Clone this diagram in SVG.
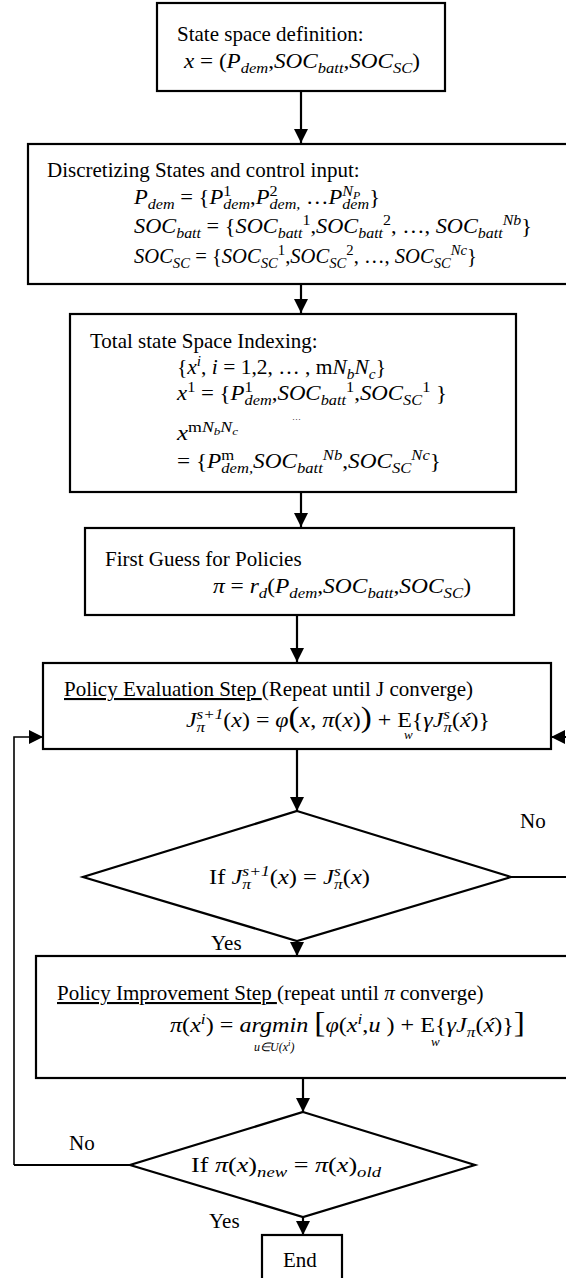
<svg xmlns="http://www.w3.org/2000/svg" width="566" height="1278" viewBox="0 0 566 1278">
  <style>
    .box { fill: #fff; stroke: #000; stroke-width: 2.2; }
    .dec { fill: #fff; stroke: #000; stroke-width: 2.2; stroke-linejoin: miter; }
    .tx { font-family: "Liberation Serif", "Times New Roman", serif; font-size: 21px; fill: #000; }
    .mi { font-style: italic; }
    .up { font-style: normal; }
    .sb { font-size: 15px; baseline-shift: -5px; }
    .sp { font-size: 15px; baseline-shift: 8px; }
    .ssp { font-size: 11px; baseline-shift: 5px; }
    .big { font-size: 29px; font-style: normal; }
    .small { font-family: "Liberation Serif", "Times New Roman", serif; font-size: 13px; font-style: italic; fill: #000; }
    .conn { fill: none; stroke: #000; stroke-width: 2.2; }
    .conn-thin { fill: none; stroke: #000; stroke-width: 1.6; }
  </style>
  <defs>
    <marker id="ah" markerUnits="userSpaceOnUse" markerWidth="16" markerHeight="16" refX="14" refY="7" orient="auto">
      <path d="M0,0 L14,7 L0,14 z" fill="#000"/>
    </marker>
  </defs>

  <!-- connectors -->
  <g id="connectors">
    <path class="conn" d="M301,91 V143" marker-end="url(#ah)"/>
    <path class="conn" d="M301,284 V313" marker-end="url(#ah)"/>
    <path class="conn" d="M301,492 V527" marker-end="url(#ah)"/>
    <path class="conn" d="M297,615 V662" marker-end="url(#ah)"/>
    <path class="conn" d="M297,749 V811" marker-end="url(#ah)"/>
    <path class="conn" d="M297,941 V956" marker-end="url(#ah)"/>
    <path class="conn" d="M303,1078 V1112" marker-end="url(#ah)"/>
    <path class="conn" d="M303,1217 V1235" marker-end="url(#ah)"/>
    <!-- value not converged: loop back to evaluation -->
    <path class="conn" d="M511,877 H572 V737 H551" marker-end="url(#ah)"/>
    <!-- policy not converged: loop back to evaluation -->
    <path class="conn" d="M130,1165 H14"/>
    <path class="conn-thin" d="M14,1165 V737 H43" marker-end="url(#ah)"/>
    <text class="tx" x="520" y="828">No</text>
    <text class="tx" x="211" y="950">Yes</text>
    <text class="tx" x="69" y="1150">No</text>
    <text class="tx" x="209" y="1228">Yes</text>
  </g>

  <!-- state space definition -->
  <g id="n-state">
    <rect class="box" x="157" y="3" width="288" height="88"/>
    <text class="tx" x="177" y="41">State space definition:</text>
    <text class="tx mi" x="184" y="68" textLength="236" lengthAdjust="spacingAndGlyphs">x<tspan class="up"> = (</tspan>P<tspan class="sb">dem</tspan><tspan class="up">,</tspan>SOC<tspan class="sb">batt</tspan><tspan class="up">,</tspan>SOC<tspan class="sb">SC</tspan><tspan class="up">)</tspan></text>
  </g>

  <!-- discretization -->
  <g id="n-discretize">
    <rect class="box" x="28" y="144" width="542" height="140"/>
    <text class="tx" x="47" y="177">Discretizing States and control input:</text>
    <text class="tx mi" x="134" y="204" textLength="246" lengthAdjust="spacingAndGlyphs">P<tspan class="sb">dem</tspan><tspan class="up"> = {</tspan>P<tspan class="sp up">1</tspan><tspan class="sb" dx="-7.5">dem</tspan><tspan class="up">,</tspan>P<tspan class="sp up">2</tspan><tspan class="sb" dx="-7.5">dem,</tspan><tspan class="up"> …</tspan>P<tspan class="sp">N</tspan><tspan class="ssp">P</tspan><tspan class="sb" dx="-16.7">dem</tspan><tspan class="up">}</tspan></text>
    <text class="tx mi" x="134" y="233" textLength="398" lengthAdjust="spacingAndGlyphs">SOC<tspan class="sb">batt</tspan><tspan class="up"> = {</tspan>SOC<tspan class="sb">batt</tspan><tspan class="sp up">1</tspan><tspan class="up">,</tspan>SOC<tspan class="sb">batt</tspan><tspan class="sp up">2</tspan><tspan class="up">, …, </tspan>SOC<tspan class="sb">batt</tspan><tspan class="sp">Nb</tspan><tspan class="up">}</tspan></text>
    <text class="tx mi" x="134" y="263" textLength="343" lengthAdjust="spacingAndGlyphs">SOC<tspan class="sb">SC</tspan><tspan class="up"> = {</tspan>SOC<tspan class="sb">SC</tspan><tspan class="sp up">1</tspan><tspan class="up">,</tspan>SOC<tspan class="sb">SC</tspan><tspan class="sp up">2</tspan><tspan class="up">, …, </tspan>SOC<tspan class="sb">SC</tspan><tspan class="sp">Nc</tspan><tspan class="up">}</tspan></text>
  </g>

  <!-- state indexing -->
  <g id="n-index">
    <rect class="box" x="70" y="314" width="446" height="178"/>
    <text class="tx" x="90" y="348">Total state Space Indexing:</text>
    <text class="tx mi" x="177" y="374" textLength="209" lengthAdjust="spacingAndGlyphs"><tspan class="up">{</tspan>x<tspan class="sp">i</tspan><tspan class="up">, </tspan>i<tspan class="up"> = 1,2, … , m</tspan>N<tspan class="sb">b</tspan>N<tspan class="sb">c</tspan><tspan class="up">}</tspan></text>
    <text class="tx mi" x="177" y="400" textLength="270" lengthAdjust="spacingAndGlyphs">x<tspan class="sp up">1</tspan><tspan class="up"> = {</tspan>P<tspan class="sp up">1</tspan><tspan class="sb" dx="-7.5">dem</tspan><tspan class="up">,</tspan>SOC<tspan class="sb">batt</tspan><tspan class="sp up">1</tspan><tspan class="up">,</tspan>SOC<tspan class="sb">SC</tspan><tspan class="sp up">1</tspan><tspan class="up"> }</tspan></text>
    <text class="tx" x="292" y="420" style="font-size:9px">…</text>
    <text class="tx mi" x="177" y="440" textLength="61" lengthAdjust="spacingAndGlyphs">x<tspan class="sp up">m</tspan><tspan class="sp">N</tspan><tspan class="ssp">b</tspan><tspan class="sp">N</tspan><tspan class="ssp">c</tspan></text>
    <text class="tx mi" x="177" y="468" textLength="264" lengthAdjust="spacingAndGlyphs"><tspan class="up">= {</tspan>P<tspan class="sp up">m</tspan><tspan class="sb" dx="-11.7">dem,</tspan>SOC<tspan class="sb">batt</tspan><tspan class="sp">Nb</tspan><tspan class="up">,</tspan>SOC<tspan class="sb">SC</tspan><tspan class="sp">Nc</tspan><tspan class="up">}</tspan></text>
  </g>

  <!-- initial policy -->
  <g id="n-guess">
    <rect class="box" x="85" y="528" width="429" height="87"/>
    <text class="tx" x="105" y="566">First Guess for Policies</text>
    <text class="tx mi" x="213" y="593" textLength="258" lengthAdjust="spacingAndGlyphs">π<tspan class="up"> = </tspan>r<tspan class="sb">d</tspan><tspan class="up">(</tspan>P<tspan class="sb">dem</tspan><tspan class="up">,</tspan>SOC<tspan class="sb">batt</tspan><tspan class="up">,</tspan>SOC<tspan class="sb">SC</tspan><tspan class="up">)</tspan></text>
  </g>

  <!-- policy evaluation -->
  <g id="n-evaluate">
    <rect class="box" x="43" y="663" width="508" height="86"/>
    <text class="tx" x="64" y="696"><tspan text-decoration="underline">Policy Evaluation Step </tspan>(Repeat until J converge)</text>
    <text class="tx mi" x="186" y="727" textLength="304" lengthAdjust="spacingAndGlyphs">J<tspan class="sp">s+1</tspan><tspan class="sb" dx="-23.5">π</tspan><tspan class="up" dx="16">(</tspan>x<tspan class="up">) = </tspan>φ<tspan class="big">(</tspan>x<tspan class="up">, </tspan>π<tspan class="up">(</tspan>x<tspan class="up">)</tspan><tspan class="big">)</tspan><tspan class="up"> + E{</tspan>γJ<tspan class="sp">s</tspan><tspan class="sb" dx="-5.8">π</tspan><tspan class="up">(</tspan>x́<tspan class="up">)}</tspan></text>
    <text class="small" x="404" y="739">w</text>
  </g>

  <!-- value convergence test -->
  <g id="n-check-value">
    <polygon class="dec" points="297,811 511,877 297,941 83,877"/>
    <text class="tx mi" x="209" y="884" textLength="161" lengthAdjust="spacingAndGlyphs"><tspan class="up">If </tspan>J<tspan class="sp">s+1</tspan><tspan class="sb" dx="-23.5">π</tspan><tspan class="up" dx="16">(</tspan>x<tspan class="up">) = </tspan>J<tspan class="sp">s</tspan><tspan class="sb" dx="-5.8">π</tspan><tspan class="up">(</tspan>x<tspan class="up">)</tspan></text>
  </g>

  <!-- policy improvement -->
  <g id="n-improve">
    <rect class="box" x="36" y="956" width="534" height="122"/>
    <text class="tx" x="57" y="1000"><tspan text-decoration="underline">Policy Improvement Step </tspan>(repeat until <tspan class="mi">π</tspan> converge)</text>
    <text class="tx mi" x="170" y="1032" textLength="355" lengthAdjust="spacingAndGlyphs">π<tspan class="up">(</tspan>x<tspan class="sp">i</tspan><tspan class="up">) = </tspan>argmin<tspan class="up"> </tspan><tspan class="big">[</tspan>φ<tspan class="up">(</tspan>x<tspan class="sp">i</tspan><tspan class="up">,</tspan>u<tspan class="up"> ) + E{</tspan>γJ<tspan class="sb">π</tspan><tspan class="up">(</tspan>x́<tspan class="up">)}</tspan><tspan class="big">]</tspan></text>
    <text class="small" x="254" y="1051" style="font-size:12px">u∈U(x<tspan style="font-size:9px" baseline-shift="5px">i</tspan>)</text>
    <text class="small" x="431" y="1046">w</text>
  </g>

  <!-- policy convergence test -->
  <g id="n-check-policy">
    <polygon class="dec" points="303,1112 475,1165 303,1217 130,1165"/>
    <text class="tx mi" x="191" y="1172" textLength="190" lengthAdjust="spacingAndGlyphs"><tspan class="up">If </tspan>π<tspan class="up">(</tspan>x<tspan class="up">)</tspan><tspan class="sb">new</tspan><tspan class="up"> = </tspan>π<tspan class="up">(</tspan>x<tspan class="up">)</tspan><tspan class="sb">old</tspan></text>
  </g>

  <!-- end -->
  <g id="n-end">
    <rect class="box" x="262" y="1235" width="80" height="50"/>
    <text class="tx" x="283" y="1267">End</text>
  </g>
</svg>
